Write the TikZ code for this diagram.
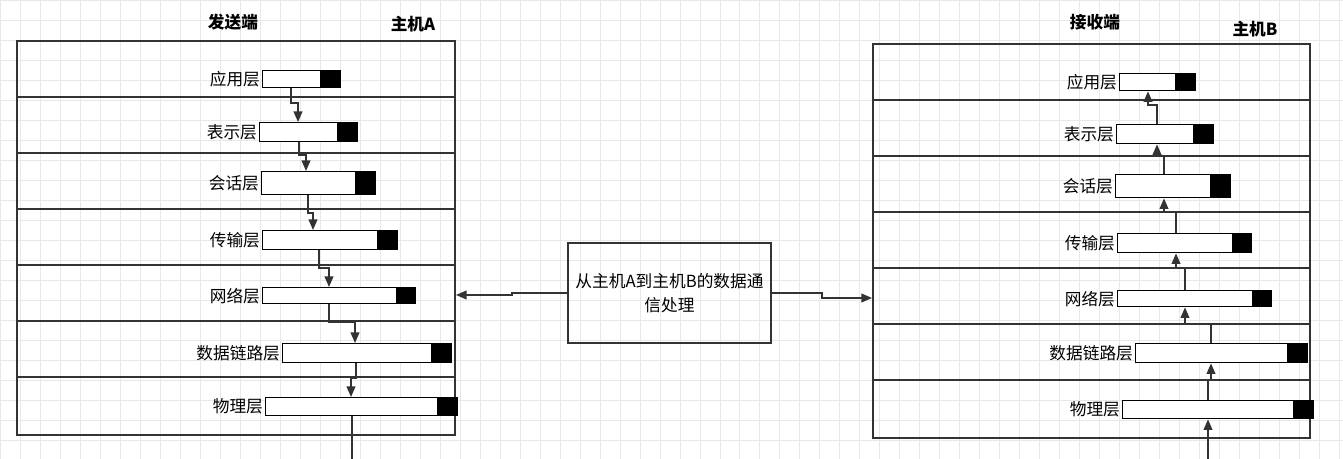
\documentclass[tikz,border=0pt]{standalone}
\usepackage{fontspec}
\setmainfont{Noto Sans CJK SC}
\usetikzlibrary{arrows.meta}

\tikzset{
  bar/.style={draw, thick, fill=white, inner sep=0pt},
  barend/.style={draw, thick, fill=black, inner sep=0pt},
  layer/.style={font=\fontsize{9.5}{11}\selectfont, anchor=east, inner sep=1pt},
  flow/.style={thick, draw=black!80, -{Triangle[length=6pt,width=5pt]}},
  head/.style={font=\bfseries\fontsize{9.5}{11}\selectfont}
}

\newcommand{\layerbar}[7]{%
  % name, left, mid, right, top, bottom, text
  \node[bar, minimum width={(#3-#2)*0.02cm}, minimum height={(#6-#5)*0.02cm}, anchor=north west] (#1) at (#2,#5) {};
  \node[barend, minimum width={(#4-#3)*0.02cm}, minimum height={(#6-#5)*0.02cm}, anchor=north west] (#1c) at (#3,#5) {};
  \node[layer] (#1t) at (#1.west) {#7};
}

\begin{document}
\begin{tikzpicture}[x=0.02cm, y=-0.02cm]
\useasboundingbox (0,0) rectangle (1343,459);
\draw[gray!18, step=0.4cm] (0,0) grid (1343,459);

% sender
\node[head] (sendt) at (233,22) {发送端};
\node[head] (hostA) at (413,24) {主机A};
\draw[thick, black!80] (17,41) rectangle (455,435);
\foreach \y in {97,153,209,265,321,377}
  \draw[thick, black!80] (17,\y) -- (455,\y);

\layerbar{sa}{262}{320}{340}{70}{87}{应用层}
\layerbar{sb}{259}{337}{357}{122}{141}{表示层}
\layerbar{sc}{261}{355}{375}{171}{194}{会话层}
\layerbar{sd}{262}{377}{397}{230}{249}{传输层}
\layerbar{se}{262}{396}{415}{287}{303}{网络层}
\layerbar{sf}{282}{431}{451}{343}{362}{数据链路层}
\layerbar{sg}{265}{437}{457}{397}{415}{物理层}

\coordinate (sout) at (352,459);
\draw[flow] (sa.south -| 291,0) |- (298,103) -- (sb.north -| 298,0);
\draw[flow] (sb.south -| 299,0) |- (306,155) -- (sc.north -| 306,0);
\draw[flow] (sc.south -| 308,0) |- (313,213) -- (sd.north -| 313,0);
\draw[flow] (sd.south -| 319,0) |- (329,268) -- (se.north -| 329,0);
\draw[flow] (se.south -| 329,0) |- (355,322) -- (sf.north -| 355,0);
\draw[flow] (sf.south -| 356,0) |- (351,378) -- (sg.north -| 351,0);
\draw[thick, black!80] (sg.south -| 352,0) -- (sout);

% receiver
\node[head] (recvt) at (1095,22) {接收端};
\node[head] (hostB) at (1255,29) {主机B};
\draw[thick, black!80] (873,44) rectangle (1310,438);
\foreach \y in {100,156,212,268,324,380}
  \draw[thick, black!80] (873,\y) -- (1310,\y);

\layerbar{ra}{1119}{1175}{1195}{73}{90}{应用层}
\layerbar{rb}{1116}{1193}{1213}{124}{143}{表示层}
\layerbar{rc}{1115}{1210}{1230}{174}{197}{会话层}
\layerbar{rd}{1117}{1232}{1251}{233}{252}{传输层}
\layerbar{re}{1117}{1252}{1271}{290}{306}{网络层}
\layerbar{rf}{1135}{1287}{1307}{343}{362}{数据链路层}
\layerbar{rg}{1122}{1293}{1313}{400}{418}{物理层}

\coordinate (rin) at (1208,459);
\draw[flow] (rin) -- (rg.south -| 1208,0);
\draw[flow] (rg.north -| 1208,0) |- (1211,380) -- (rf.south -| 1211,0);
\draw[flow] (rf.north -| 1211,0) |- (1185,324) -- (re.south -| 1185,0);
\draw[flow] (re.north -| 1185,0) |- (1176,268) -- (rd.south -| 1176,0);
\draw[flow] (rd.north -| 1176,0) |- (1164,212) -- (rc.south -| 1164,0);
\draw[flow] (rc.north -| 1164,0) |- (1157,156) -- (rb.south -| 1157,0);
\draw[flow] (rb.north -| 1157,0) |- (1148,105) -- (ra.south -| 1148,0);

% middle
\node[draw, thick, black!80, text=black, minimum width={203*0.02cm}, minimum height={100*0.02cm}, text width={190*0.02cm}, align=center, font=\fontsize{9.5}{14}\selectfont] (mid) at (669.5,293) {从主机A到主机B的数据通\\信处理};
\coordinate (sidel) at (456,295);
\coordinate (sider) at (872,298);
\draw[flow] (mid.west) -- (512,293) |- (sidel);
\draw[flow] (mid.east) -- (822,293) |- (sider);
\end{tikzpicture}
\end{document}
